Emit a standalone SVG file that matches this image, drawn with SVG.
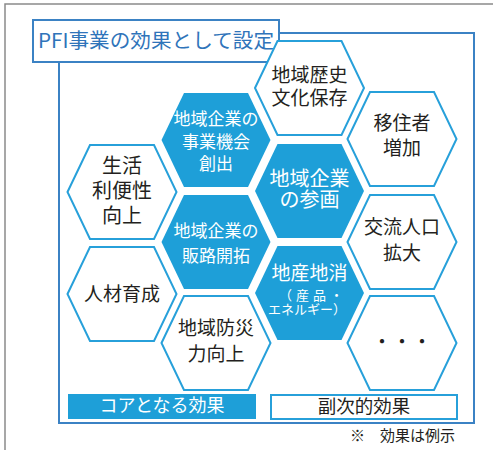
<svg xmlns="http://www.w3.org/2000/svg" xmlns:xlink="http://www.w3.org/1999/xlink" width="493" height="450" viewBox="0 0 493 450">
<style>
text{font-family:"Noto Sans CJK JP","Noto Sans",sans-serif;text-anchor:middle}
.w{fill:#ffffff;stroke:#27a0da;stroke-width:2}
.b{fill:#1e9fd8;stroke:none}
.t{fill:#231f20;font-size:19px}
.tw{fill:#ffffff;font-size:17px}
.frame{fill:none;stroke:#3b82c4;stroke-width:2}
</style>
<defs>
<polygon id="hex" points="-54.5,0 -32,-47 32,-47 54.5,0 32,47 -32,47"/>
</defs>
<rect width="493" height="450" fill="#ffffff"/>
<path d="M5,450 V4 H493" fill="none" stroke="#8a8a8a" stroke-width="1.5"/>
<rect class="frame" x="59" y="33" width="415" height="390"/>
<g id="title">
<rect x="33" y="20" width="246" height="42" fill="#ffffff" stroke="#3b82c4" stroke-width="2"/>
<text x="156" y="48" style="font-size:20px;fill:#2f74ba" textLength="236" lengthAdjust="spacingAndGlyphs">PFI事業の効果として設定</text>
</g>
<g id="connectors"></g>
<g id="n-seikatsu"><use xlink:href="#hex" x="122" y="192" class="w"/>
<text class="t" style="font-size:20px" x="122" y="172.5">生活</text><text class="t" style="font-size:20px" x="122" y="197.5">利便性</text><text class="t" style="font-size:20px" x="122" y="222.5">向上</text></g>
<g id="n-jinzai"><use xlink:href="#hex" x="122" y="294" class="w"/>
<text class="t" x="122" y="300.5">人材育成</text></g>
<g id="n-jigyo"><use xlink:href="#hex" x="216" y="140" class="b"/>
<text class="tw" x="216" y="124.5">地域企業の</text><text class="tw" x="216" y="147.5">事業機会</text><text class="tw" x="216" y="170">創出</text></g>
<g id="n-hanro"><use xlink:href="#hex" x="216" y="242" class="b"/>
<text class="tw" x="216" y="236.5">地域企業の</text><text class="tw" x="216" y="261.5">販路開拓</text></g>
<g id="n-bosai"><use xlink:href="#hex" x="216" y="343" class="w"/>
<text class="t" x="216" y="335">地域防災</text><text class="t" x="216" y="361">力向上</text></g>
<g id="n-rekishi"><use xlink:href="#hex" x="309.5" y="88" class="w"/>
<text class="t" x="309.5" y="82">地域歴史</text><text class="t" x="309.5" y="105">文化保存</text></g>
<g id="n-sankaku"><use xlink:href="#hex" x="309.5" y="191" class="b"/>
<text class="tw" style="font-size:20px" x="309.5" y="185.5">地域企業</text><text class="tw" style="font-size:20px" x="309.5" y="207">の参画</text></g>
<g id="n-chisan"><use xlink:href="#hex" x="309.5" y="293" class="b"/>
<text class="tw" style="font-size:19px" x="309.5" y="280">地産地消</text>
<text class="tw" style="font-size:13px" x="311" y="300" textLength="64" lengthAdjust="spacing">（産品・</text>
<text class="tw" style="font-size:13px" x="307" y="314">エネルギー）</text></g>
<g id="n-ijusha"><use xlink:href="#hex" x="402" y="139" class="w"/>
<text class="t" x="402" y="130">移住者</text><text class="t" x="402" y="155">増加</text></g>
<g id="n-koryu"><use xlink:href="#hex" x="402" y="242" class="w"/>
<text class="t" x="402" y="234">交流人口</text><text class="t" x="402" y="260">拡大</text></g>
<g id="n-etc"><use xlink:href="#hex" x="402" y="343" class="w"/>
<text class="t" style="font-size:20px" x="402" y="349">・・・</text></g>
<g id="legend">
<rect x="68" y="394" width="188" height="25" fill="#1e9fd8"/>
<text x="162" y="412" style="font-size:18px;fill:#ffffff">コアとなる効果</text>
<rect x="271" y="395" width="186" height="24" fill="#ffffff" stroke="#27a0da" stroke-width="2"/>
<text x="364" y="413" style="font-size:18.5px;fill:#231f20">副次的効果</text>
</g>
<text x="402.5" y="440.5" style="font-size:15px;fill:#231f20">※　効果は例示</text>
</svg>
